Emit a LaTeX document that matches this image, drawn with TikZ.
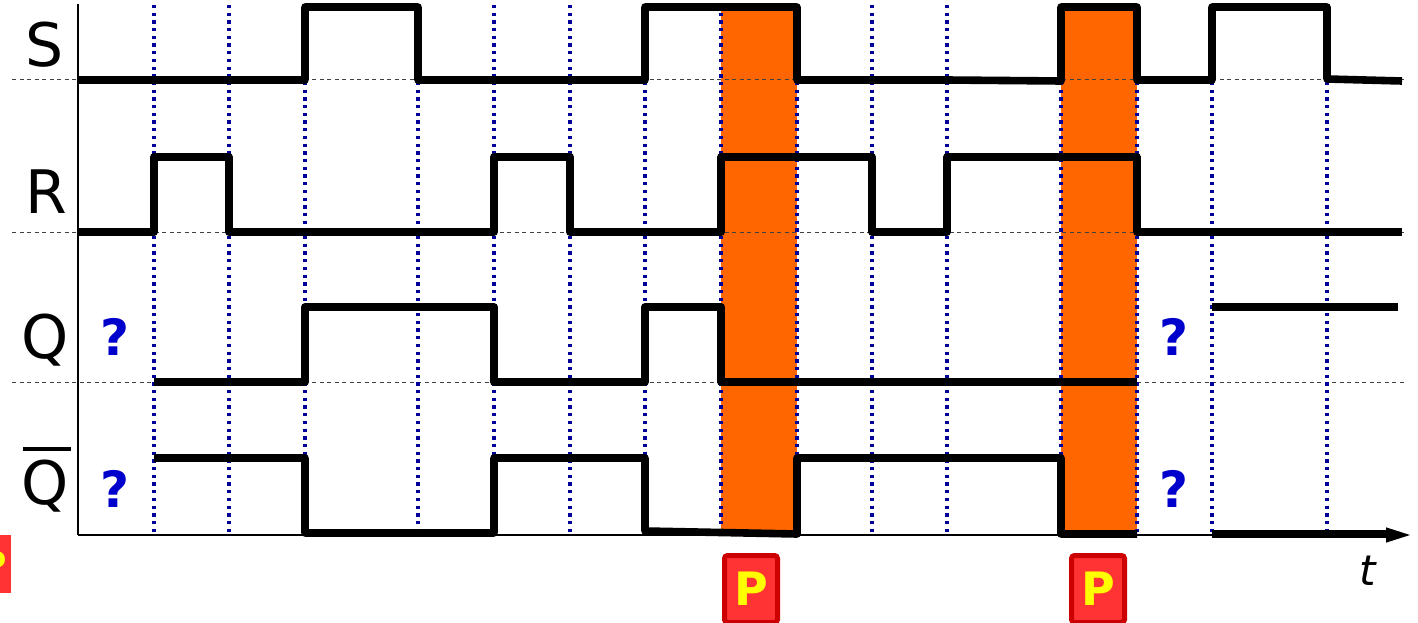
\documentclass[tikz,border=0pt]{standalone}
\usepackage{fontspec}
\setmainfont{DejaVu Sans}
\usetikzlibrary{arrows.meta}
\definecolor{band}{HTML}{FF6600}
\definecolor{gridblue}{HTML}{000099}
\definecolor{qblue}{HTML}{0000CC}
\definecolor{pborder}{HTML}{CC0000}
\definecolor{pfill}{HTML}{FF3333}
\definecolor{pletter}{HTML}{FFFF00}
\begin{document}
\begin{tikzpicture}[x=1pt,y=-1pt,
  sig/.style={line width=7.6pt, line join=round, black},
  baseline/.style={line width=1pt, dash pattern=on 4pt off 3.5pt, black!75},
  gridline/.style={line width=3.8pt, gridblue, dash pattern=on 3.3pt off 4.4pt},
  axisline/.style={line width=1.3pt, black},
  bandfill/.style={fill=band, draw=none},
  lab/.style={font=\fontsize{60}{60}\selectfont, anchor=base, inner sep=0pt},
  qmark/.style={text=qblue, font=\bfseries\fontsize{50}{50}\selectfont, anchor=base, inner sep=0pt},
  pbox/.style={draw=pborder, line width=5pt, fill=pfill, rounded corners=3pt,
    minimum width=53pt, minimum height=67pt, inner sep=0pt, text=pletter,
    font=\bfseries\fontsize{46}{46}\selectfont},
  tlabel/.style={font=\itshape\fontsize{42}{42}\selectfont, anchor=base, inner sep=0pt}]
\clip (0,0) rectangle (1418,623);
% orange bands
\fill[bandfill] (721,7) rectangle (797,533);
\fill[bandfill] (1061,7) rectangle (1137,533);
% baselines
\draw[baseline] (12,80) -- (1405,80);
\draw[baseline] (12,232) -- (1405,232);
\draw[baseline] (12,382) -- (1405,382);
% grid lines
\foreach \gx in {154,229,305,418,494,570,645,721,797,872,947,1061,1137,1212,1327}
  \draw[gridline] (\gx,5) -- (\gx,533);
% axes
\coordinate (yaxtop) at (78,4);
\coordinate (origin) at (78,535);
\coordinate (xaxend) at (1410,535);
\draw[axisline] (yaxtop) -- (origin);
\draw[axisline, -{Triangle[length=24pt,width=15pt]}] (origin) -- (xaxend);
% S
\draw[sig] (78,80) -- (305,80) -- (305,7) -- (418,7) -- (418,80) -- (645,80) -- (645,7)
  -- (797,7) -- (797,80) -- (947,80) -- (1061,81) -- (1061,7) -- (1137,7) -- (1137,80)
  -- (1212,80) -- (1212,7) -- (1327,7) -- (1327,79) -- (1402,81);
% R
\draw[sig] (78,232) -- (154,232) -- (154,157) -- (229,157) -- (229,232) -- (494,232)
  -- (494,157) -- (570,157) -- (570,232) -- (721,232) -- (721,157) -- (872,157)
  -- (872,232) -- (947,232) -- (947,157) -- (1137,157) -- (1137,232) -- (1402,232);
% Q
\draw[sig] (154,382) -- (305,382) -- (305,307) -- (494,307) -- (494,382) -- (645,382)
  -- (645,307) -- (721,307) -- (721,382) -- (1137,382);
\draw[sig] (1212,307) -- (1398,307);
% Qbar
\draw[sig] (154,458) -- (305,458) -- (305,533) -- (494,533) -- (494,458) -- (645,458)
  -- (645,531) -- (797,534) -- (797,458) -- (1061,458) -- (1061,534) -- (1137,534);
\draw[sig] (1212,534) -- (1388,534);
% labels
\node[lab] (lS) at (45,67) {S};
\node[lab] (lR) at (46.5,213) {R};
\node[lab] (lQ) at (45,358) {Q};
\node[lab] (lQb) at (45,504) {Q};
\draw[line width=4pt] (23,449) -- (71,449);
% question marks
\node[qmark] (q1) at (115,355) {?};
\node[qmark] (q2) at (115,507) {?};
\node[qmark] (q3) at (1174,355) {?};
\node[qmark] (q4) at (1174,507) {?};
% P boxes
\node[pbox] (p1) at (751,589) {P};
\node[pbox] (p2) at (1098,589) {P};
\node[fill=pfill, minimum width=34pt, minimum height=58pt, inner sep=0pt, text=pletter,
  font=\bfseries\fontsize{36}{36}\selectfont] (p0) at (-6,564) {P};
% t label
\node[tlabel] (tl) at (1368,585) {t};
\end{tikzpicture}
\end{document}
